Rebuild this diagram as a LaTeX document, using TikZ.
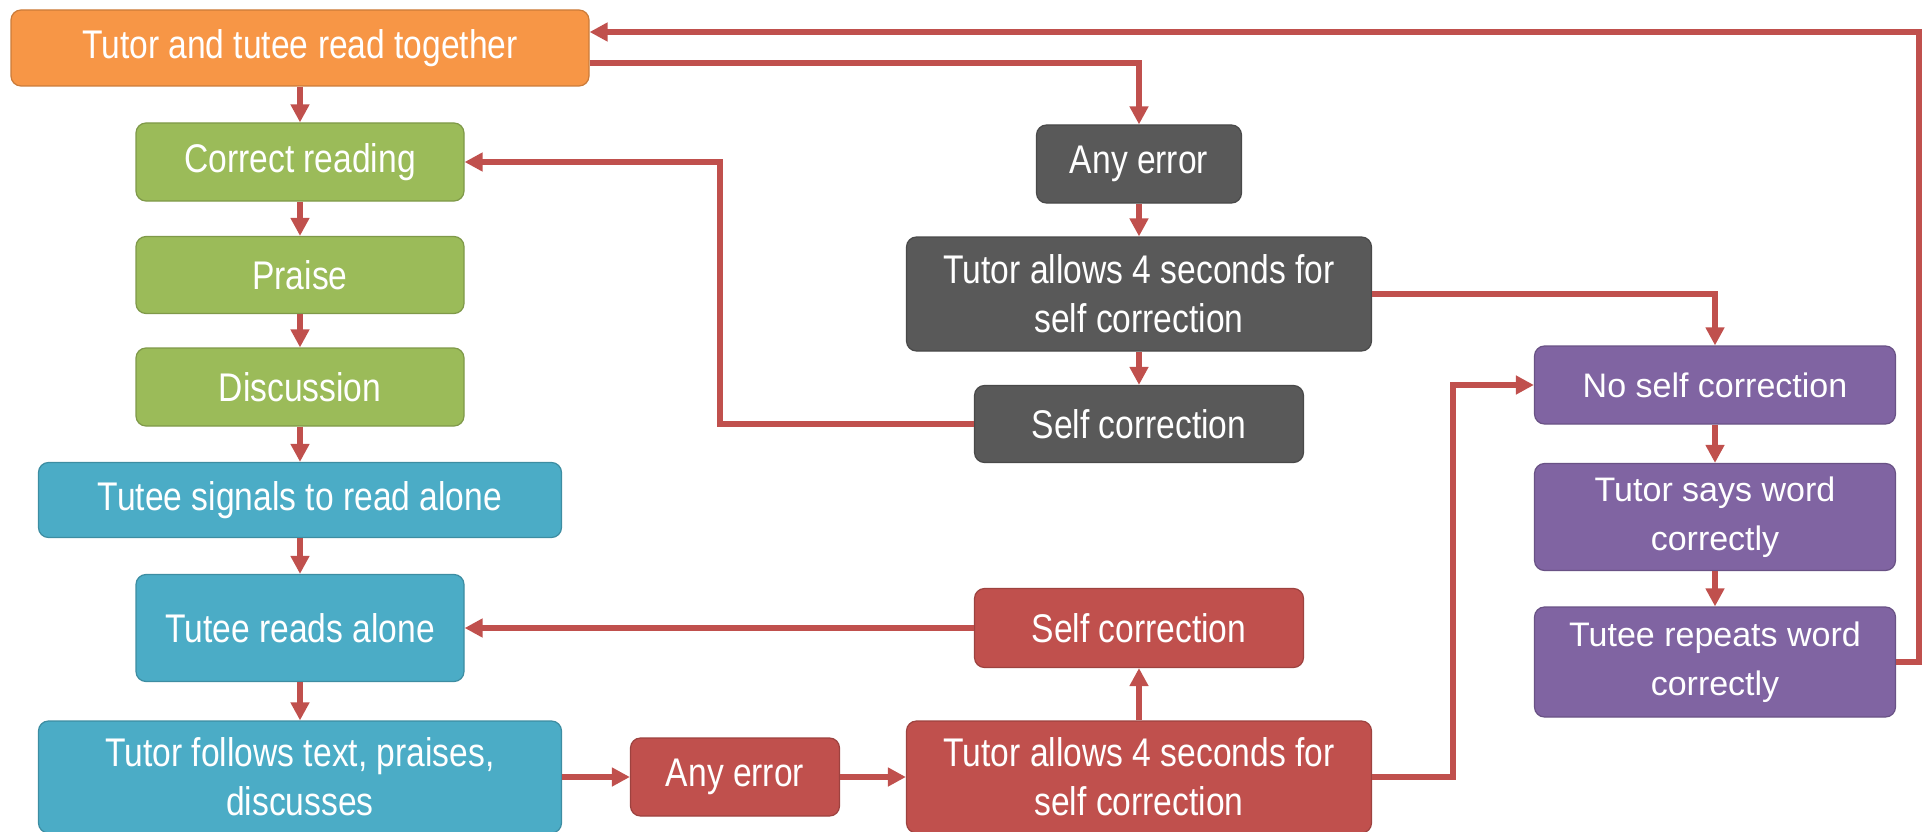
\documentclass[tikz,border=0pt]{standalone}
\usepackage{fontspec}
\setmainfont{Liberation Sans}
\newfontfamily\narrowsans[FakeStretch=0.84]{Liberation Sans}
\usetikzlibrary{arrows.meta}

\definecolor{cOrange}{HTML}{F79646}
\definecolor{cGreen}{HTML}{9BBB59}
\definecolor{cBlue}{HTML}{4BACC6}
\definecolor{cDark}{HTML}{595959}
\definecolor{cRed}{HTML}{C0504D}
\definecolor{cPurple}{HTML}{8064A2}
\definecolor{cArrow}{HTML}{C0504D}

\tikzset{
  box/.style={rectangle, rounded corners=10pt, draw=#1!82!black, fill=#1,
    line width=1.2pt, text=white, align=center, inner sep=0pt,
    font=\narrowsans\fontsize{40}{49}\selectfont},
  widebox/.style={box=#1, font=\fontsize{34}{49}\selectfont},
  arr/.style={draw=cArrow, line width=5.2pt,
    -{Triangle[length=18pt,width=18pt]}},
}

\begin{document}
\begin{tikzpicture}[x=1pt,y=-1pt]
\useasboundingbox (0,0) rectangle (1922,832);

% left column
\node[box=cOrange, minimum width=578pt, minimum height=76pt] (together) at (300,48) {Tutor and tutee read together};
\node[box=cGreen, minimum width=328pt, minimum height=78pt] (correct) at (300,162) {Correct reading};
\node[box=cGreen, minimum width=328pt, minimum height=77pt] (praise) at (300,275) {Praise};
\node[box=cGreen, minimum width=328pt, minimum height=78pt] (discuss) at (300,387) {Discussion};
\node[box=cBlue, minimum width=523pt, minimum height=75pt] (signals) at (300,500) {Tutee signals to read alone};
\node[box=cBlue, minimum width=328pt, minimum height=107pt] (alone) at (300,628) {Tutee reads alone};
\node[box=cBlue, minimum width=523pt, minimum height=112pt] (follows) at (300,777) {Tutor follows text, praises,\\discusses};

% error branch while reading together
\node[box=cDark, minimum width=205pt, minimum height=78pt] (errA) at (1139,164) {Any error};
\node[box=cDark, minimum width=465pt, minimum height=114pt] (waitA) at (1139,294) {Tutor allows 4 seconds for\\self correction};
\node[box=cDark, minimum width=329pt, minimum height=77pt] (selfA) at (1139,424) {Self correction};

% error branch while reading alone
\node[box=cRed, minimum width=329pt, minimum height=79pt] (selfB) at (1139,628) {Self correction};
\node[box=cRed, minimum width=209pt, minimum height=78pt] (errB) at (735,777) {Any error};
\node[box=cRed, minimum width=465pt, minimum height=112pt] (waitB) at (1139,777) {Tutor allows 4 seconds for\\self correction};

% correction procedure
\node[widebox=cPurple, minimum width=361pt, minimum height=78pt] (noself) at (1715,385) {No self correction};
\node[widebox=cPurple, minimum width=361pt, minimum height=107pt] (says) at (1715,517) {Tutor says word\\correctly};
\node[widebox=cPurple, minimum width=361pt, minimum height=110pt] (repeats) at (1715,662) {Tutee repeats word\\correctly};

% routing corners
\coordinate (topright) at (1919,32);
\coordinate (backA) at (720,162);
\coordinate (toNo) at (1453,385);

% main sequence
\draw[arr] (together) -- (correct);
\draw[arr] (correct) -- (praise);
\draw[arr] (praise) -- (discuss);
\draw[arr] (discuss) -- (signals);
\draw[arr] (signals) -- (alone);
\draw[arr] (alone) -- (follows);

% reading together: error handling
\draw[arr] ([yshift=-15pt]together.east) -| (errA.north);
\draw[arr] (errA) -- (waitA);
\draw[arr] (waitA) -- (selfA);
\draw[arr] (selfA.west) -| (backA) -- (correct.east);
\draw[arr] (waitA.east) -| (noself.north);

% reading alone: error handling
\draw[arr] (follows.east) -- (errB.west);
\draw[arr] (errB) -- (waitB);
\draw[arr] (waitB) -- (selfB);
\draw[arr] (selfB.west) -- (alone.east);
\draw[arr] (waitB.east) -| (toNo) -- (noself.west);

% correction procedure and return
\draw[arr] (noself) -- (says);
\draw[arr] (says) -- (repeats);
\draw[arr] (repeats.east) -| (topright) -- (together.east |- topright);
\end{tikzpicture}
\end{document}
